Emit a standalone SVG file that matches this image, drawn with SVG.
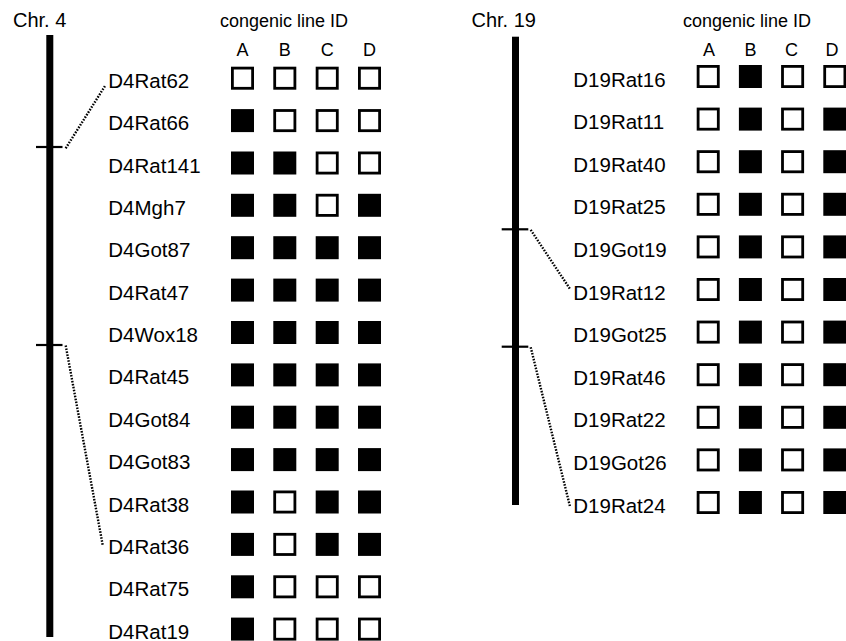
<svg xmlns="http://www.w3.org/2000/svg" xmlns:xlink="http://www.w3.org/1999/xlink" width="846" height="641" viewBox="0 0 846 641">
<style>
text{font-family:"Liberation Sans",Arial,Helvetica,sans-serif;fill:#000}
.lab{font-size:20.5px}
.hd{font-size:18px}
.chr{font-size:20px}
.col{font-size:18px;text-anchor:middle}
.bar{fill:#000}
.tick{stroke:#000;stroke-width:2.2}
.dot{stroke:#000;stroke-width:2.4;stroke-dasharray:1.6 1.4;fill:none}
</style>
<defs>
<rect id="f" width="23" height="23" fill="#000"/>
<rect id="o" x="1.4" y="1.4" width="20.2" height="20.2" fill="#fff" stroke="#000" stroke-width="2.8"/>
</defs>
<rect width="846" height="641" fill="#fff"/>

<g id="chr4">
<text class="chr" x="13" y="27">Chr. 4</text>
<rect class="bar" x="46.3" y="35" width="7" height="602"/>
<line class="tick" x1="36" y1="147" x2="62.5" y2="147"/>
<line class="tick" x1="36" y1="345" x2="62.5" y2="345"/>
<text class="hd" x="220" y="27">congenic line ID</text>
<text class="col" x="242.5" y="56">A</text>
<text class="col" x="284.8" y="56">B</text>
<text class="col" x="327.2" y="56">C</text>
<text class="col" x="369.5" y="56">D</text>
</g>

<g id="chr19">
<text class="chr" x="471.5" y="27">Chr. 19</text>
<rect class="bar" x="512" y="36.7" width="7" height="468.3"/>
<line class="tick" x1="501.7" y1="229.3" x2="528.3" y2="229.3"/>
<line class="tick" x1="501.7" y1="346.7" x2="528.3" y2="346.7"/>
<text class="hd" x="683" y="27">congenic line ID</text>
<text class="col" x="709" y="56">A</text>
<text class="col" x="750.5" y="56">B</text>
<text class="col" x="791.5" y="56">C</text>
<text class="col" x="832" y="56">D</text>
</g>

<g id="connectors">
<line class="dot" x1="65.7" y1="148.3" x2="105" y2="86"/>
<line class="dot" x1="65.7" y1="345.5" x2="102.7" y2="545"/>
<line class="dot" x1="530.7" y1="229.8" x2="570" y2="289"/>
<line class="dot" x1="530.7" y1="347.2" x2="570" y2="506.5"/>
</g>

<g id="D4Rat62" transform="translate(0,66.7)"><text class="lab" x="108.3" y="21">D4Rat62</text><use href="#o" x="231"/><use href="#o" x="273.3"/><use href="#o" x="315.7"/><use href="#o" x="358"/></g>
<g id="D4Rat66" transform="translate(0,109.1)"><text class="lab" x="108.3" y="21">D4Rat66</text><use href="#f" x="231"/><use href="#o" x="273.3"/><use href="#o" x="315.7"/><use href="#o" x="358"/></g>
<g id="D4Rat141" transform="translate(0,151.5)"><text class="lab" x="108.3" y="21">D4Rat141</text><use href="#f" x="231"/><use href="#f" x="273.3"/><use href="#o" x="315.7"/><use href="#o" x="358"/></g>
<g id="D4Mgh7" transform="translate(0,193.8)"><text class="lab" x="108.3" y="21">D4Mgh7</text><use href="#f" x="231"/><use href="#f" x="273.3"/><use href="#o" x="315.7"/><use href="#f" x="358"/></g>
<g id="D4Got87" transform="translate(0,236.2)"><text class="lab" x="108.3" y="21">D4Got87</text><use href="#f" x="231"/><use href="#f" x="273.3"/><use href="#f" x="315.7"/><use href="#f" x="358"/></g>
<g id="D4Rat47" transform="translate(0,278.6)"><text class="lab" x="108.3" y="21">D4Rat47</text><use href="#f" x="231"/><use href="#f" x="273.3"/><use href="#f" x="315.7"/><use href="#f" x="358"/></g>
<g id="D4Wox18" transform="translate(0,321)"><text class="lab" x="108.3" y="21">D4Wox18</text><use href="#f" x="231"/><use href="#f" x="273.3"/><use href="#f" x="315.7"/><use href="#f" x="358"/></g>
<g id="D4Rat45" transform="translate(0,363.4)"><text class="lab" x="108.3" y="21">D4Rat45</text><use href="#f" x="231"/><use href="#f" x="273.3"/><use href="#f" x="315.7"/><use href="#f" x="358"/></g>
<g id="D4Got84" transform="translate(0,405.7)"><text class="lab" x="108.3" y="21">D4Got84</text><use href="#f" x="231"/><use href="#f" x="273.3"/><use href="#f" x="315.7"/><use href="#f" x="358"/></g>
<g id="D4Got83" transform="translate(0,448.1)"><text class="lab" x="108.3" y="21">D4Got83</text><use href="#f" x="231"/><use href="#f" x="273.3"/><use href="#f" x="315.7"/><use href="#f" x="358"/></g>
<g id="D4Rat38" transform="translate(0,490.5)"><text class="lab" x="108.3" y="21">D4Rat38</text><use href="#f" x="231"/><use href="#o" x="273.3"/><use href="#f" x="315.7"/><use href="#f" x="358"/></g>
<g id="D4Rat36" transform="translate(0,532.9)"><text class="lab" x="108.3" y="21">D4Rat36</text><use href="#f" x="231"/><use href="#o" x="273.3"/><use href="#f" x="315.7"/><use href="#f" x="358"/></g>
<g id="D4Rat75" transform="translate(0,575.3)"><text class="lab" x="108.3" y="21">D4Rat75</text><use href="#f" x="231"/><use href="#o" x="273.3"/><use href="#o" x="315.7"/><use href="#o" x="358"/></g>
<g id="D4Rat19" transform="translate(0,617.6)"><text class="lab" x="108.3" y="21">D4Rat19</text><use href="#f" x="231"/><use href="#o" x="273.3"/><use href="#o" x="315.7"/><use href="#o" x="358"/></g>

<g id="D19Rat16" transform="translate(0,65)"><text class="lab" x="573.3" y="21.5">D19Rat16</text><use href="#o" x="696.7"/><use href="#f" x="738.9"/><use href="#o" x="781.1"/><use href="#o" x="823.3"/></g>
<g id="D19Rat11" transform="translate(0,107.6)"><text class="lab" x="573.3" y="21.5">D19Rat11</text><use href="#o" x="696.7"/><use href="#f" x="738.9"/><use href="#o" x="781.1"/><use href="#f" x="823.3"/></g>
<g id="D19Rat40" transform="translate(0,150.2)"><text class="lab" x="573.3" y="21.5">D19Rat40</text><use href="#o" x="696.7"/><use href="#f" x="738.9"/><use href="#o" x="781.1"/><use href="#f" x="823.3"/></g>
<g id="D19Rat25" transform="translate(0,192.8)"><text class="lab" x="573.3" y="21.5">D19Rat25</text><use href="#o" x="696.7"/><use href="#f" x="738.9"/><use href="#o" x="781.1"/><use href="#f" x="823.3"/></g>
<g id="D19Got19" transform="translate(0,235.4)"><text class="lab" x="573.3" y="21.5">D19Got19</text><use href="#o" x="696.7"/><use href="#f" x="738.9"/><use href="#o" x="781.1"/><use href="#f" x="823.3"/></g>
<g id="D19Rat12" transform="translate(0,278)"><text class="lab" x="573.3" y="21.5">D19Rat12</text><use href="#o" x="696.7"/><use href="#f" x="738.9"/><use href="#o" x="781.1"/><use href="#f" x="823.3"/></g>
<g id="D19Got25" transform="translate(0,320.6)"><text class="lab" x="573.3" y="21.5">D19Got25</text><use href="#o" x="696.7"/><use href="#f" x="738.9"/><use href="#o" x="781.1"/><use href="#f" x="823.3"/></g>
<g id="D19Rat46" transform="translate(0,363.2)"><text class="lab" x="573.3" y="21.5">D19Rat46</text><use href="#o" x="696.7"/><use href="#f" x="738.9"/><use href="#o" x="781.1"/><use href="#f" x="823.3"/></g>
<g id="D19Rat22" transform="translate(0,405.8)"><text class="lab" x="573.3" y="21.5">D19Rat22</text><use href="#o" x="696.7"/><use href="#f" x="738.9"/><use href="#o" x="781.1"/><use href="#f" x="823.3"/></g>
<g id="D19Got26" transform="translate(0,448.4)"><text class="lab" x="573.3" y="21.5">D19Got26</text><use href="#o" x="696.7"/><use href="#f" x="738.9"/><use href="#o" x="781.1"/><use href="#f" x="823.3"/></g>
<g id="D19Rat24" transform="translate(0,491)"><text class="lab" x="573.3" y="21.5">D19Rat24</text><use href="#o" x="696.7"/><use href="#f" x="738.9"/><use href="#o" x="781.1"/><use href="#f" x="823.3"/></g>
</svg>
